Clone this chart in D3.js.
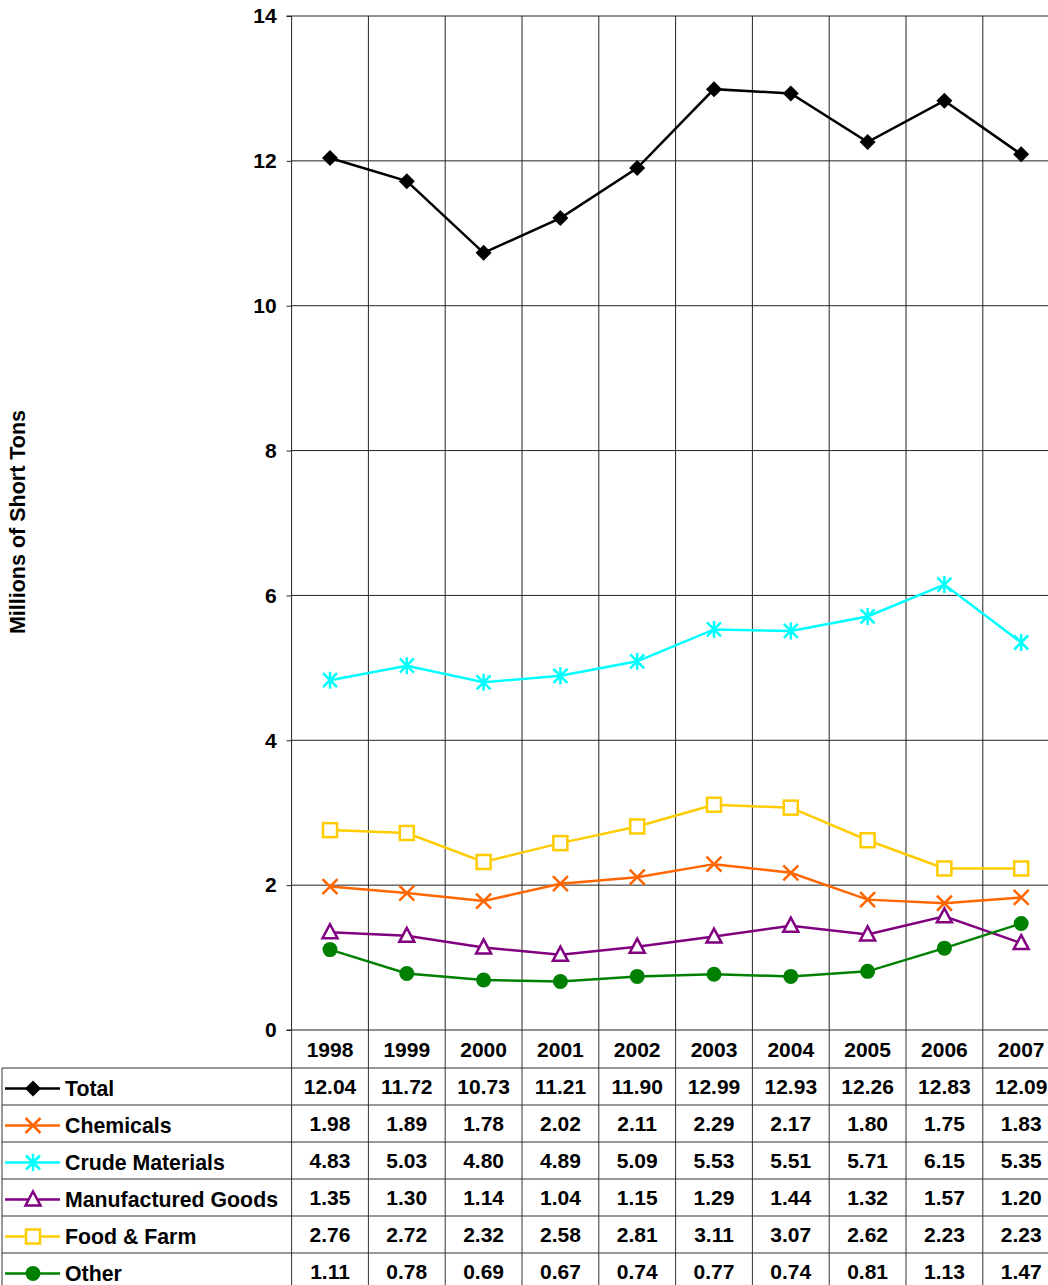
<!DOCTYPE html>
<html><head><meta charset="utf-8">
<script src="https://cdn.jsdelivr.net/npm/d3@7"></script>
<style>body{margin:0;background:#fff}svg{display:block;font-family:"Liberation Sans",Arial,sans-serif;font-weight:bold}</style>
</head><body>
<svg id="c" width="1048" height="1285"></svg>
<script>
const years = ["1998","1999","2000","2001","2002","2003","2004","2005","2006","2007"];
const total = [12.04,11.72,10.73,11.21,11.90,12.99,12.93,12.26,12.83,12.09];
const chemicals = [1.98,1.89,1.78,2.02,2.11,2.29,2.17,1.80,1.75,1.83];
const crude = [4.83,5.03,4.80,4.89,5.09,5.53,5.51,5.71,6.15,5.35];
const manufactured = [1.35,1.30,1.14,1.04,1.15,1.29,1.44,1.32,1.57,1.20];
const food = [2.76,2.72,2.32,2.58,2.81,3.11,3.07,2.62,2.23,2.23];
const other = [1.11,0.78,0.69,0.67,0.74,0.77,0.74,0.81,1.13,1.47];
const yTicks = [0,2,4,6,8,10,12,14];
const seriesNames = ["Total","Chemicals","Crude Materials","Manufactured Goods","Food & Farm","Other"];
const seriesColors = ["#000000","#FF6600","#00FFFF","#800080","#FFCC00","#008000"];
const seriesMarkers = ["diamond","x","asterisk","triangle","square","circle"];
const seriesValues = [total,chemicals,crude,manufactured,food,other];

const svg = d3.select("#c");
const pLeft = 291.6, pRight = 1059.6, pTop = 16, pBottom = 1030;
const x = d3.scaleBand().domain(years).range([pLeft,pRight]);
const y = d3.scaleLinear().domain([0,14]).range([pBottom,pTop]);

svg.append("g").selectAll("line").data(yTicks.filter(d=>d>0)).join("line")
  .attr("x1",pLeft).attr("x2",pRight).attr("y1",d=>y(d)).attr("y2",d=>y(d))
  .attr("stroke","#222").attr("stroke-width",1);
svg.append("g").selectAll("line").data(years.slice(1)).join("line")
  .attr("x1",d=>x(d)).attr("x2",d=>x(d)).attr("y1",pTop).attr("y2",pBottom)
  .attr("stroke","#222").attr("stroke-width",1);

const yAxis = d3.axisLeft(y).tickValues(yTicks).tickSize(5).tickPadding(10).tickFormat(d3.format("d"));
const ga = svg.append("g").attr("transform",`translate(${pLeft},0)`).call(yAxis);
ga.select(".domain").attr("stroke","#222").attr("d",`M-5,${pTop}H0V${pBottom}H-5`);
ga.selectAll(".tick line").attr("stroke","#222");
ga.selectAll(".tick text").attr("font-size",21).attr("font-weight","bold").attr("fill","#000").attr("font-family","Liberation Sans, Arial, sans-serif");

svg.append("text").attr("transform","translate(25,522) rotate(-90)").attr("text-anchor","middle")
  .attr("font-size",21.5).text("Millions of Short Tons");

function drawMarker(g, type, color){
  if(type==="diamond"){
    g.append("path").attr("d","M0,-8L8,0L0,8L-8,0Z").attr("fill",color);
  } else if(type==="x"){
    g.append("path").attr("d","M-7.5,-7.5L7.5,7.5M-7.5,7.5L7.5,-7.5").attr("stroke",color).attr("stroke-width",2.5).attr("fill","none");
  } else if(type==="asterisk"){
    g.append("path").attr("d","M-7,-7L7,7M-7,7L7,-7M0,-8.5L0,8.5").attr("stroke",color).attr("stroke-width",2.5).attr("fill","none");
  } else if(type==="triangle"){
    g.append("path").attr("d","M0,-8L7.5,6L-7.5,6Z").attr("stroke",color).attr("stroke-width",2.5).attr("fill","#fff");
  } else if(type==="square"){
    g.append("rect").attr("x",-7).attr("y",-7).attr("width",14).attr("height",14).attr("stroke",color).attr("stroke-width",2.5).attr("fill","#fff");
  } else if(type==="circle"){
    g.append("circle").attr("r",7.5).attr("fill",color);
  }
}

const line = d3.line().x((d,i)=>x(years[i])+x.bandwidth()/2).y(d=>y(d));
seriesValues.forEach((vals,si)=>{
  const g = svg.append("g");
  g.append("path").attr("d",line(vals)).attr("fill","none").attr("stroke",seriesColors[si]).attr("stroke-width",2.5);
  vals.forEach((v,i)=>{
    const m = g.append("g").attr("transform",`translate(${x(years[i])+x.bandwidth()/2},${y(v)})`);
    drawMarker(m, seriesMarkers[si], seriesColors[si]);
  });
});

const headerH = 38, rowH = 37;
const tbl = svg.append("g");
const lineCol = "#333";
years.forEach(yr=>{
  tbl.append("text").attr("x",x(yr)+x.bandwidth()/2).attr("y",pBottom+headerH/2).attr("dy","0.36em")
    .attr("text-anchor","middle").attr("font-size",21).text(yr);
});
years.forEach(yr=>{
  tbl.append("line").attr("x1",x(yr)).attr("x2",x(yr)).attr("y1",pBottom).attr("y2",1285)
    .attr("stroke",lineCol).attr("stroke-width",1);
});
tbl.append("line").attr("x1",2).attr("x2",2).attr("y1",pBottom+headerH).attr("y2",1285).attr("stroke",lineCol);
for(let r=0;r<=seriesNames.length;r++){
  const yy = pBottom+headerH+r*rowH;
  tbl.append("line").attr("x1",2).attr("x2",pRight).attr("y1",yy).attr("y2",yy).attr("stroke",lineCol);
}
tbl.append("line").attr("x1",pLeft).attr("x2",pRight).attr("y1",pBottom).attr("y2",pBottom).attr("stroke","#222");
seriesNames.forEach((name,si)=>{
  const cy = pBottom+headerH+si*rowH+rowH/2+2;
  const lg = tbl.append("g");
  lg.append("line").attr("x1",5).attr("x2",60).attr("y1",cy).attr("y2",cy).attr("stroke",seriesColors[si]).attr("stroke-width",2.5);
  drawMarker(lg.append("g").attr("transform",`translate(33,${cy})`), seriesMarkers[si], seriesColors[si]);
  lg.append("text").attr("x",65).attr("y",cy).attr("dy","0.36em").attr("font-size",21.3).text(name);
  seriesValues[si].forEach((v,i)=>{
    tbl.append("text").attr("x",x(years[i])+x.bandwidth()/2).attr("y",cy-2).attr("dy","0.36em")
      .attr("text-anchor","middle").attr("font-size",21).text(v.toFixed(2));
  });
});
</script>
</body></html>
